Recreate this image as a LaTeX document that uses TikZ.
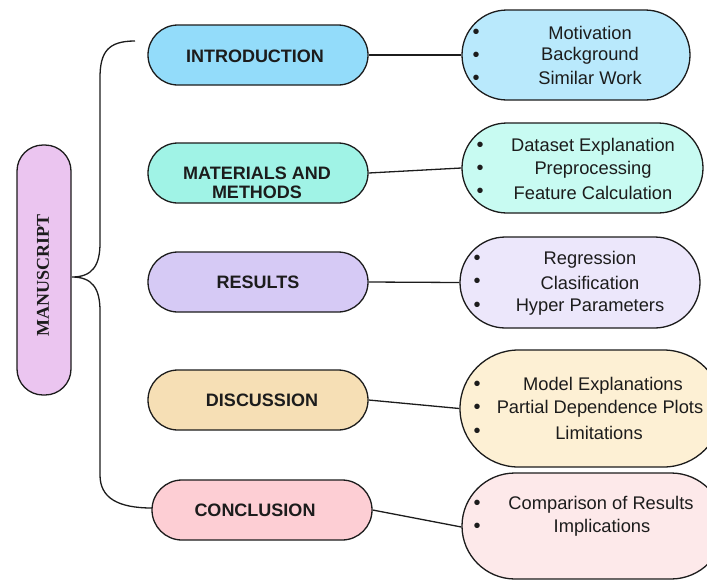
\documentclass[tikz,border=0pt]{standalone}
\usepackage{fontspec}
\setmainfont{Liberation Sans}
\newfontfamily\serifbold{Liberation Serif}
\usetikzlibrary{shapes.misc}
\definecolor{introM}{HTML}{93DCFA}
\definecolor{introD}{HTML}{B9E9FC}
\definecolor{matM}{HTML}{A0F3E6}
\definecolor{matD}{HTML}{C8FBF2}
\definecolor{resM}{HTML}{D6CAF5}
\definecolor{resD}{HTML}{ECE7FB}
\definecolor{disM}{HTML}{F6DFB5}
\definecolor{disD}{HTML}{FDF0D4}
\definecolor{conM}{HTML}{FDCED4}
\definecolor{conD}{HTML}{FDE9EA}
\definecolor{manM}{HTML}{EBC5F0}
\definecolor{ink}{HTML}{1C1C1C}
\tikzset{
  pill/.style={draw=ink, line width=1.3pt, rounded rectangle, inner sep=0pt},
  mainpill/.style={pill, minimum width=220pt, minimum height=60pt},
  mlabel/.style={font=\fontsize{18}{19}\selectfont\bfseries, text=ink, align=center, inner sep=0pt},
  dlabel/.style={font=\fontsize{18.3}{23.2}\selectfont, text=ink, align=center, inner sep=0pt},
  bul/.style={font=\fontsize{20}{20}\selectfont, text=ink, inner sep=0pt},
  link/.style={draw=ink, line width=1.3pt},
}
\begin{document}
\begin{tikzpicture}[x=1pt,y=-1pt]
\useasboundingbox (0,0) rectangle (707,579);
\clip (0,0) rectangle (707,579);
% manuscript
\node[draw=ink, line width=1.3pt, fill=manM, rounded corners=26pt, minimum width=54pt, minimum height=250pt, inner sep=0pt] (man) at (44,270) {};
\node[rotate=90, font=\serifbold\fontsize{18}{18}\selectfont\bfseries, text=ink, inner sep=0pt] (manT) at (43,275) {MANUSCRIPT};
% brace
\coordinate (btop) at (135,41);
\coordinate (btip) at (72,277);
\coordinate (bbot) at (152,508);
\draw[link] (btop) .. controls (108,41) and (100,52) .. (100,78) -- (100,243)
  .. controls (100,266) and (92,277) .. (btip)
  .. controls (92,277) and (100,288) .. (100,311) -- (100,475)
  .. controls (100,498) and (118,508) .. (bbot);
% main nodes
\node[mainpill, fill=introM] (intro) at (258,55) {};
\node[mlabel] (introT) at (255,56) {INTRODUCTION};
\node[mainpill, fill=matM] (mat) at (258,173) {};
\node[mlabel] (matT) at (257,183) {MATERIALS AND\\METHODS};
\node[mainpill, fill=resM] (res) at (258,282) {};
\node[mlabel] (resT) at (258,282) {RESULTS};
\node[mainpill, fill=disM] (dis) at (258,400) {};
\node[mlabel] (disT) at (262,400) {DISCUSSION};
\node[mainpill, fill=conM] (con) at (262,510) {};
\node[mlabel] (conT) at (255,510) {CONCLUSION};
% detail nodes
\node[pill, fill=introD, minimum width=228pt, minimum height=90pt] (introD) at (576,55) {};
\node[pill, fill=matD, minimum width=241pt, minimum height=90pt] (matD) at (582.5,168) {};
\node[pill, fill=resD, minimum width=240pt, minimum height=91pt] (resD) at (580,282.5) {};
\node[pill, fill=disD, minimum width=262pt, minimum height=117pt] (disD) at (591,408.5) {};
\node[pill, fill=conD, minimum width=262pt, minimum height=106pt] (conD) at (593,526) {};
% connectors
\draw[link] (intro.east) -- (introD.west);
\draw[link] (mat.east) -- (matD.west);
\draw[link] (res.east) -- (resD.west);
\draw[link] (dis.east) -- (disD.west);
\draw[link] (con.east) -- (conD.west |- 0,527);
% detail texts
\node[dlabel] (t1a) at (590,33) {Motivation};
\node[dlabel] (t1b) at (590,56) {Background};
\node[dlabel] (t1c) at (590,78) {Similar Work};
\node[bul] (b1a) at (476,34) {•};
\node[bul] (b1b) at (476,57) {•};
\node[bul] (b1c) at (476,80) {•};
\node[dlabel] (t2a) at (593,147) {Dataset Explanation};
\node[dlabel] (t2b) at (593,170) {Preprocessing};
\node[dlabel] (t2c) at (593,193) {Feature Calculation};
\node[bul] (b2a) at (480,147) {•};
\node[bul] (b2b) at (480,170) {•};
\node[bul] (b2c) at (480,193) {•};
\node[dlabel] (t3a) at (590,260) {Regression};
\node[dlabel] (t3b) at (590,283) {Clasification};
\node[dlabel] (t3c) at (590,307) {Hyper Parameters};
\node[bul] (b3a) at (477,260) {•};
\node[bul] (b3b) at (477,283) {•};
\node[bul] (b3c) at (477,307) {•};
\node[dlabel] (t4a) at (603,386) {Model Explanations};
\node[dlabel] (t4b) at (600,409) {Partial Dependence Plots};
\node[dlabel] (t4c) at (599,433) {Limitations};
\node[bul] (b4a) at (477,386) {•};
\node[bul] (b4b) at (477,409) {•};
\node[bul] (b4c) at (477,433) {•};
\node[dlabel] (t5a) at (601,505) {Comparison of Results};
\node[dlabel] (t5b) at (602,528) {Implications};
\node[bul] (b5a) at (477,505) {•};
\node[bul] (b5b) at (477,528) {•};
\end{tikzpicture}
\end{document}
